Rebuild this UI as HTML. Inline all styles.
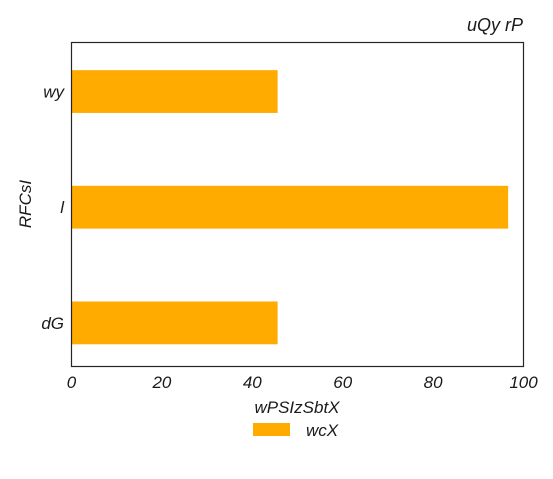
<!DOCTYPE html>
<html><head><meta charset="utf-8"><style>
body{margin:0;background:#fff;}
svg text{font-family:"Liberation Sans","DejaVu Sans",sans-serif;font-style:italic;fill:#1a1a1a;}
</style></head><body>
<svg width="553" height="474" viewBox="0 0 553 474" xmlns="http://www.w3.org/2000/svg">
<rect x="0" y="0" width="553" height="474" fill="#fff"/>
<text x="523" y="31" font-size="18" text-anchor="end">uQy rP</text>
<g id="bars"></g>
<rect x="71.5" y="42.5" width="452" height="324" fill="none" stroke="#262626" stroke-width="1.2"/>
<g id="xticks"></g>
<g id="yticks"></g>
<text x="297" y="413" font-size="17" text-anchor="middle">wPSIzSbtX</text>
<text x="31" y="204" font-size="17" text-anchor="middle" transform="rotate(-90 31 204)">RFCsI</text>
<rect x="253" y="423" width="37" height="13" fill="#ffab00"/>
<text x="306" y="436" font-size="17">wcX</text>
<script>
const categories=["dG","l","wy"];
const values=[45.6,96.6,45.6];
const xTicks=[0,20,40,60,80,100];
const NS="http://www.w3.org/2000/svg";
const x0=71.5,x1=523.5,xmin=0,xmax=100;
const yTop=42.5,yBot=366.5,ymin=-0.377,ymax=2.424;
const xs=v=>x0+(v-xmin)/(xmax-xmin)*(x1-x0);
const ys=v=>yBot-(v-ymin)/(ymax-ymin)*(yBot-yTop);
const bh=(ys(0)-ys(0.37));
const bars=document.getElementById('bars');
categories.forEach((c,i)=>{
 const r=document.createElementNS(NS,'rect');
 
 
 r.setAttribute('x',xs(0));r.setAttribute('y',ys(i)-bh/2);
 r.setAttribute('width',xs(values[i])-xs(0));r.setAttribute('height',bh);
 r.setAttribute('fill','#ffab00');bars.appendChild(r);
 const t=document.createElementNS(NS,'text');
 
 
 t.setAttribute('x',64);t.setAttribute('y',ys(i)+6);t.setAttribute('font-size','17');
 t.setAttribute('text-anchor','end');t.textContent=c;
 document.getElementById('yticks').appendChild(t);
});
xTicks.forEach(v=>{
 const t=document.createElementNS(NS,'text');
 
 
 t.setAttribute('x',xs(v));t.setAttribute('y',388);t.setAttribute('font-size','17');
 t.setAttribute('text-anchor','middle');t.textContent=v;
 document.getElementById('xticks').appendChild(t);
});
</script>
</svg>
</body></html>
